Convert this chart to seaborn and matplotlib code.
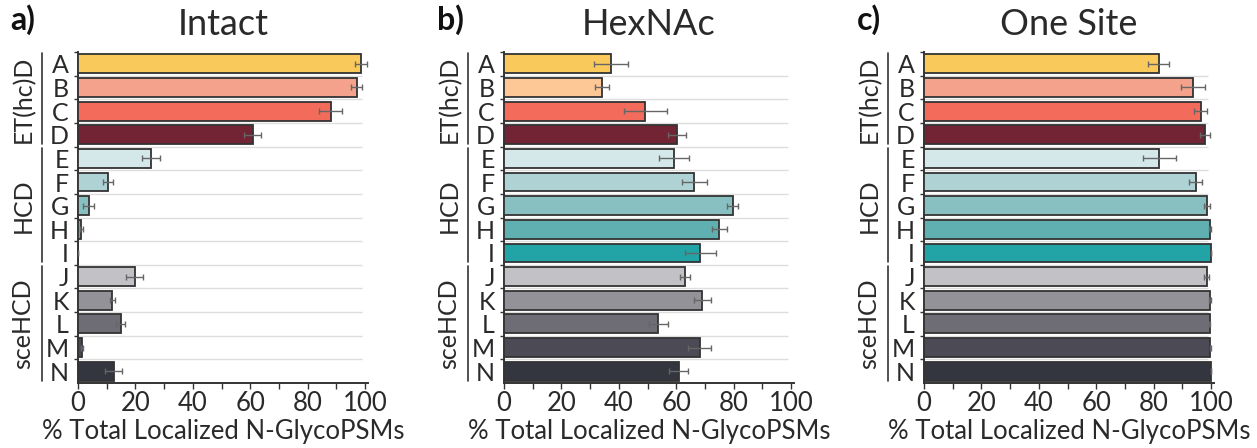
import numpy as np
import pandas as pd
import matplotlib
matplotlib.use("Agg")
import matplotlib.pyplot as plt
import matplotlib.transforms as mtransforms
from matplotlib.ticker import MultipleLocator, FixedLocator
import seaborn as sns

sns.set_theme(style="white")
plt.rcParams["font.family"] = ["Lato", "DejaVu Sans"]

# ---- data -------------------------------------------------------------
methods = list("ABCDEFGHIJKLMN")
groups = [("ET(hc)D", 0, 3), ("HCD", 4, 8), ("sceHCD", 9, 13)]

panel_tags = ["a)", "b)", "c)"]
panel_titles = ["Intact", "HexNAc", "One Site"]

intact_mean = [98.5, 97.0, 88.0, 60.8, 25.3, 10.5, 3.8, 1.2, 0.0, 19.7, 12.0, 14.9, 1.5, 12.4]
intact_err = [2.0, 2.0, 3.9, 3.0, 3.1, 1.7, 1.9, 0.5, 0.0, 3.0, 1.0, 1.6, 0.4, 2.9]

hexnac_mean = [37.3, 34.2, 49.2, 60.3, 59.2, 66.3, 79.7, 75.0, 68.4, 63.0, 69.1, 53.8, 68.1, 60.8]
hexnac_err = [6.0, 2.5, 7.4, 3.2, 5.1, 4.3, 1.9, 2.6, 5.5, 1.7, 2.9, 3.4, 3.9, 3.4]

onesite_mean = [81.7, 93.6, 96.4, 98.0, 82.0, 94.6, 98.5, 99.7, 100.0, 98.4, 99.7, 99.5, 99.7, 99.9]
onesite_err = [3.6, 4.1, 2.3, 1.75, 5.9, 2.3, 1.05, 0.3, 0.1, 1.0, 0.3, 0.2, 0.2, 0.1]

colors_main = ["#F9C95C", "#F4A28C", "#F26B5B", "#722435",
               "#D4E7E9", "#AFD3D5", "#88C0C2", "#60AFB1", "#22A4A7",
               "#C2C1C6", "#939298", "#6E6D76", "#4B4A55", "#33353F"]
colors_hexnac = list(colors_main)
colors_hexnac[1] = "#FDC896"

panels = [
    (intact_mean, intact_err, colors_main),
    (hexnac_mean, hexnac_err, colors_hexnac),
    (onesite_mean, onesite_err, colors_main),
]

# ---- layout ----------------------------------------------------------
W, H = 1257, 448
fig = plt.figure(figsize=(W / 100, H / 100), dpi=100)

lefts_px = [78, 504, 924]
ax_w_px = 290      # 0..101 on the x axis
top_px, bot_px = 52, 383

text_color = "#2a2a2a"
spine_color = "#333333"

for i, (mean, err, cols) in enumerate(panels):
    ax = fig.add_axes([lefts_px[i] / W, 1 - bot_px / H,
                       ax_w_px / W, (bot_px - top_px) / H])
    df = pd.DataFrame({"method": methods, "value": mean})
    sns.barplot(data=df, x="value", y="method", hue="method",
                palette=cols, saturation=1, legend=False, orient="h",
                width=0.8, edgecolor="#333333", linewidth=1.3, ax=ax,
                zorder=3)
    ypos = np.arange(len(methods))
    ax.errorbar(mean, ypos, xerr=err, fmt="none", ecolor="#666666",
                elinewidth=1.0, capsize=2.5, capthick=1.0, zorder=4)

    # separators between rows
    ax.hlines(np.arange(0.5, len(methods) - 1, 1.0), 0, 99,
              colors="#dddddd", linewidth=1.0, zorder=1)

    ax.set_xlim(0, 101)
    ax.set_ylim(len(methods) - 0.5, -0.5)

    ax.xaxis.set_major_locator(MultipleLocator(20))
    ax.xaxis.set_minor_locator(MultipleLocator(10))
    ax.yaxis.set_minor_locator(FixedLocator(np.arange(-0.5, len(methods) - 1, 1.0)))
    ax.tick_params(axis="x", which="both", bottom=True, length=4, width=1,
                   color=spine_color, labelsize=18.5, labelcolor=text_color, pad=2)
    ax.tick_params(axis="y", which="major", left=False, length=0,
                   labelsize=18, labelcolor=text_color, pad=6.5)
    ax.tick_params(axis="y", which="minor", left=True, length=3, width=1,
                   color=spine_color)

    for side in ("top", "right"):
        ax.spines[side].set_visible(False)
    for side in ("left", "bottom"):
        ax.spines[side].set_color(spine_color)
        ax.spines[side].set_linewidth(1.4)

    ax.set_ylabel("")
    ax.set_xlabel("% Total Localized N-GlycoPSMs", fontsize=18.5,
                  color=text_color, labelpad=2)
    ax.set_title(panel_titles[i], fontsize=26, color=text_color, pad=12)
    ax.text(-0.232, 1.05, panel_tags[i], transform=ax.transAxes,
            fontsize=23, fontweight="bold", color="#111111",
            ha="left", va="bottom")

    # method-group brackets on the left
    trans = mtransforms.blended_transform_factory(ax.transAxes, ax.transData)
    for name, g0, g1 in groups:
        ax.plot([-0.125, -0.125], [g0 - 0.45, g1 + 0.4], transform=trans,
                color="#333333", linewidth=1.2, clip_on=False)
        ax.text(-0.19, (g0 + g1) / 2, name, transform=trans, rotation=90,
                ha="center", va="center", fontsize=18, color=text_color)

fig.savefig("out.png", dpi=100)
